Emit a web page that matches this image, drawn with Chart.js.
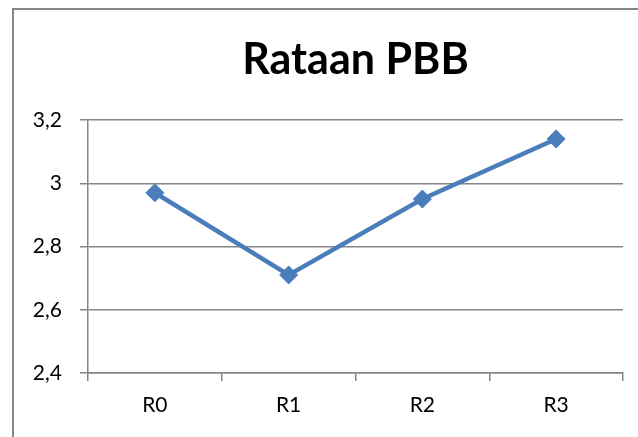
<!DOCTYPE html>
<html>
<head>
<meta charset="utf-8">
<script src="https://cdn.jsdelivr.net/npm/chart.js@4"></script>
<style>
  html, body { margin: 0; padding: 0; background: #fff; }
  #wrap { position: relative; width: 638px; height: 437px; overflow: hidden; }
  #frame { position: absolute; left: 12px; top: 8px; width: 700px; height: 500px;
           border-left: 2px solid #868686; border-top: 2px solid #868686; }
  canvas { position: absolute; left: 0; top: 0; }
</style>
</head>
<body>
<div id="wrap">
  <div id="frame"></div>
  <canvas id="chart" width="638" height="437"></canvas>
</div>
<script>
// chart data
const categories = ["R0", "R1", "R2", "R3"];
const rataan = [2.97, 2.71, 2.95, 3.14];
const yMin = 2.4, yMax = 3.2, yStep = 0.2;

const gray = "#868686";
const blue = "#4A7EBB";

// center the title over the plot area, like the original
const titleOverPlot = {
    id: "titleOverPlot",
    afterLayout(chart) {
        if (chart.titleBlock) {
            chart.titleBlock.left = chart.chartArea.left;
            chart.titleBlock.right = chart.chartArea.right;
        }
    }
};

const ctx = document.getElementById("chart").getContext("2d");

const chart = new Chart(ctx, {
    type: "line",
    data: {
        labels: categories,
        datasets: [{
            label: "Rataan PBB",
            data: rataan,
            borderColor: blue,
            backgroundColor: blue,
            borderWidth: 4.5,
            tension: 0,
            pointStyle: "rectRot",
            pointRadius: 9,
            pointBorderWidth: 1,
            pointBackgroundColor: blue,
            pointBorderColor: blue
        }]
    },
    options: {
        responsive: false,
        animation: false,
        layout: { padding: { left: 0, right: 15, top: 0, bottom: 0 } },
        plugins: {
            legend: { display: false },
            tooltip: { enabled: false },
            title: {
                display: true,
                text: "Rataan PBB",
                color: "#000",
                font: { family: "Lato", size: 43, weight: "bold", lineHeight: 1.2 },
                padding: { top: 34, bottom: 34.4 }
            }
        },
        scales: {
            x: {
                offset: true,
                grid: {
                    offset: true,
                    drawOnChartArea: false,
                    drawTicks: true,
                    tickLength: 8,
                    color: gray,
                    lineWidth: 1.5
                },
                border: { display: true, color: gray, width: 1.5 },
                ticks: { color: "#000", font: { family: "Lato", size: 21 }, padding: 12 },
                afterFit: scale => { scale.height = 64; }
            },
            y: {
                min: yMin,
                max: yMax,
                grid: { color: gray, lineWidth: 1.5, tickLength: 8 },
                border: { display: true, color: gray, width: 1.5 },
                ticks: {
                    stepSize: yStep,
                    color: "#000",
                    font: { family: "Lato", size: 21 },
                    padding: 18,
                    callback: v => String(Math.round(v * 10) / 10).replace(".", ",")
                },
                afterFit: scale => { scale.width = 88; }
            }
        }
    },
    plugins: [titleOverPlot]
});
</script>
</body>
</html>
